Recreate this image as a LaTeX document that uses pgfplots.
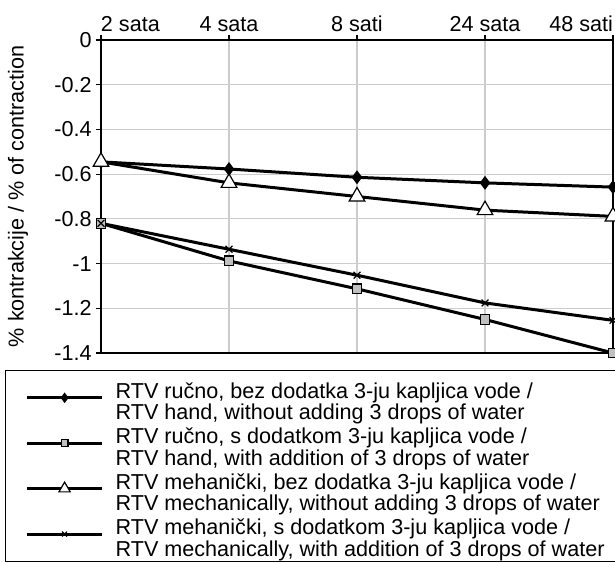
\documentclass[border=0pt]{standalone}
\usepackage{pgfplots}
\pgfplotsset{compat=1.18}
\usepackage{fontspec}
\setmainfont{Liberation Sans}
\definecolor{gridc}{HTML}{CCCCCC}
\definecolor{sqc}{HTML}{C0C0C0}
\begin{document}
\fontsize{10.8}{10}\selectfont
\begin{tikzpicture}
\begin{axis}[name=ax, scale only axis, width=256pt, height=156.5pt,
 xmin=0, xmax=4, ymin=-1.4, ymax=0,
 xtick={0,1,2,3,4},
 xticklabels={\makebox[0pt][l]{2 sata},4 sata,8 sati,24 sata,\makebox[0pt][r]{48 sati}},
 xtick pos=upper, xticklabel pos=upper, ytick pos=lower,
 ytick={-1.4,-1.2,-1,-0.8,-0.6,-0.4,-0.2,0},
 yticklabels={-1.4,-1.2,-1,-0.8,-0.6,-0.4,-0.2,0},
 tick align=outside, major tick length=2.5pt,
 grid=major, grid style={draw=gridc, line width=0.6pt},
 axis line style={line width=0.8pt},
 tick style={black, line width=0.6pt},
 ticklabel style={font=\fontsize{10.8}{10}\selectfont},
 xticklabel style={inner sep=1.5pt},
 yticklabel style={inner sep=2pt},
 ylabel={\% kontrakcije / \% of contraction},
 label style={font=\fontsize{10.8}{10}\selectfont},
 ylabel style={at={(axis description cs:-0.162,0.5)}, anchor=center},
 legend style={at={(axis description cs:-0.1875,-0.0543)}, anchor=north west,
   draw=black, line width=0.6pt, font=\fontsize{10.8}{10}\selectfont,
   inner xsep=10pt, inner ysep=4pt, row sep=3.5pt,
   column sep=4pt},
 legend cell align=left,
 legend image code/.code={\draw[mark repeat=2,mark phase=2, every mark/.append style={scale=0.72}] plot coordinates {(0pt,0pt) (18.75pt,0pt) (37.5pt,0pt)};},
]
\addplot[black, line width=1.5pt, mark=diamond*, mark size=3pt, mark options={solid, fill=black, line width=0.6pt}]
 coordinates {(0,-0.545) (1,-0.577) (2,-0.614) (3,-0.639) (4,-0.658)};
\addlegendentry{\makebox[270pt][l]{\begin{tabular}{@{}l@{}}RTV ručno, bez dodatka 3-ju kapljica vode /\\RTV hand, without adding 3 drops of water\end{tabular}}}
\addplot[black, line width=1.5pt, mark=square*, mark size=2.4pt, mark options={solid, fill=sqc, line width=0.6pt}]
 coordinates {(0,-0.82) (1,-0.988) (2,-1.113) (3,-1.25) (4,-1.40)};
\addlegendentry{\begin{tabular}{@{}l@{}}RTV ručno, s dodatkom 3-ju kapljica vode /\\RTV hand, with addition of 3 drops of water\end{tabular}}
\addplot[black, line width=1.5pt, mark=triangle*, mark size=4.5pt, mark options={solid, fill=white, line width=0.6pt}]
 coordinates {(0,-0.545) (1,-0.639) (2,-0.70) (3,-0.761) (4,-0.789)};
\addlegendentry{\begin{tabular}{@{}l@{}}RTV mehanički, bez dodatka 3-ju kapljica vode /\\RTV mechanically, without adding 3 drops of water\end{tabular}}
\addplot[black, line width=1.5pt, mark=x, mark size=2.4pt, mark options={solid, line width=0.6pt}]
 coordinates {(0,-0.82) (1,-0.936) (2,-1.052) (3,-1.176) (4,-1.254)};
\addlegendentry{\begin{tabular}{@{}l@{}}RTV mehanički, s dodatkom 3-ju kapljica vode /\\RTV mechanically, with addition of 3 drops of water\end{tabular}}
\end{axis}
\pgfresetboundingbox
\useasboundingbox ([xshift=-50.5pt,yshift=20pt]ax.north west) rectangle ([xshift=1pt,yshift=-104.5pt]ax.south east);
\end{tikzpicture}
\end{document}
